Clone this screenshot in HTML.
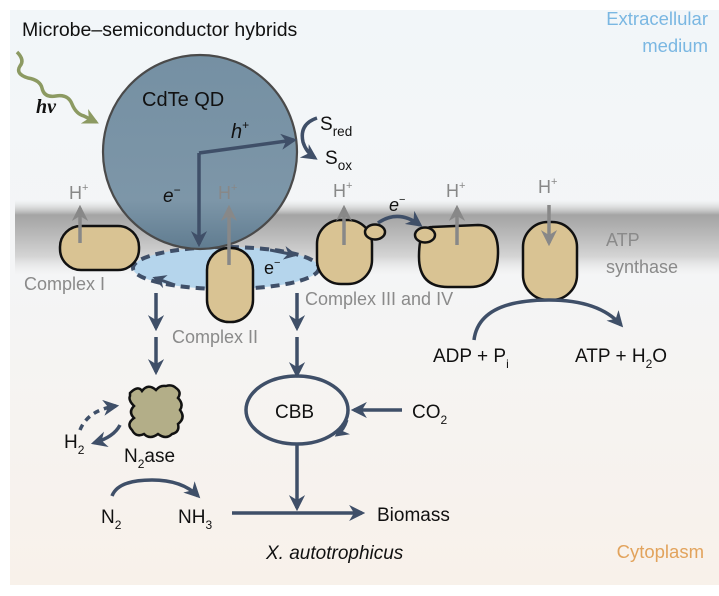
<!DOCTYPE html>
<html><head><meta charset="utf-8"><style>
html,body{margin:0;padding:0;}
body{width:719px;height:591px;overflow:hidden;font-family:"Liberation Sans",sans-serif;}
</style></head><body>
<svg width="719" height="591" viewBox="0 0 719 591" xmlns="http://www.w3.org/2000/svg" font-family="Liberation Sans, sans-serif">
<defs>
<linearGradient id="bg" x1="0" y1="0" x2="0" y2="1">
<stop offset="0" stop-color="#f2f6f9"/><stop offset="0.45" stop-color="#f4f5f6"/><stop offset="1" stop-color="#f8f1ea"/>
</linearGradient>
<linearGradient id="mem" x1="0" y1="0" x2="0" y2="1">
<stop offset="0" stop-color="#d8d8d8" stop-opacity="0"/>
<stop offset="0.2" stop-color="#a4a4a4"/>
<stop offset="0.45" stop-color="#b8b8b8"/>
<stop offset="0.75" stop-color="#d4d4d4"/>
<stop offset="1" stop-color="#e8e8e8" stop-opacity="0"/>
</linearGradient>
<linearGradient id="qd" x1="0" y1="0" x2="0" y2="1">
<stop offset="0" stop-color="#7590a3"/><stop offset="0.75" stop-color="#7d96a8"/><stop offset="1" stop-color="#607c90"/>
</linearGradient>
<marker id="ah" viewBox="0 0 10 10" refX="8" refY="5" markerWidth="4.6" markerHeight="4.6" orient="auto"><path d="M0,0 L10,5 L0,10 L3,5 z" fill="#3f4f68"/></marker>
<marker id="ag" viewBox="0 0 10 10" refX="8" refY="5" markerWidth="4.6" markerHeight="4.6" orient="auto"><path d="M0,0 L10,5 L0,10 L3,5 z" fill="#888"/></marker>
<marker id="aw" viewBox="0 0 10 10" refX="8" refY="5" markerWidth="4.6" markerHeight="4.6" orient="auto"><path d="M0,0 L10,5 L0,10 L3,5 z" fill="#8c9a62"/></marker>
</defs>
<rect width="719" height="591" fill="#fff"/>
<rect x="10" y="10" width="709" height="575" fill="url(#bg)"/>
<rect x="15" y="200" width="704" height="75" fill="url(#mem)"/>

<text x="22" y="36" font-size="19.5" fill="#111">Microbe–semiconductor hybrids</text>
<text x="708" y="25" font-size="18.5" fill="#7ab7e2" text-anchor="end">Extracellular</text>
<text x="708" y="52" font-size="18.5" fill="#7ab7e2" text-anchor="end">medium</text>
<text x="704" y="558" font-size="18.5" fill="#e2a35c" text-anchor="end">Cytoplasm</text>

<path d="M17,52 q8,8 3,14 q-5,8 8,12 q12,2 14,10 q2,10 14,8 q12,-2 16,8 q4,10 12,12 l12,6" fill="none" stroke="#8c9a62" stroke-width="3.5" marker-end="url(#aw)"/>
<text x="36" y="113" font-size="20" font-weight="bold" font-style="italic" fill="#111" font-family="Liberation Serif, serif">hv</text>

<path d="M317,118 q-18,6 -14,24 q3,10 12,16" fill="none" stroke="#3f4f68" stroke-width="3.5" marker-end="url(#ah)"/>
<text x="320" y="130" font-size="19" fill="#111">S<tspan font-size="13.5" dy="6">red</tspan></text>
<text x="325" y="164" font-size="19" fill="#111">S<tspan font-size="13.5" dy="6">ox</tspan></text>

<ellipse cx="226" cy="268" rx="93" ry="21" fill="#b5d5ec" stroke="#3f4f68" stroke-width="4" stroke-dasharray="9,6"/>
<path d="M270,250 l25,5" stroke="#3f4f68" stroke-width="3" marker-end="url(#ah)"/>
<path d="M175,285 l-20,-7" stroke="#3f4f68" stroke-width="3" marker-end="url(#ah)"/>

<circle cx="200" cy="152" r="97" fill="url(#qd)" stroke="#4a4a4a" stroke-width="2.2"/>
<text x="142" y="106" font-size="20" fill="#111">CdTe QD</text>
<path d="M199,153 L199,244" stroke="#3f4f68" stroke-width="3.5" fill="none" marker-end="url(#ah)"/>
<path d="M199,153 L294,140" stroke="#3f4f68" stroke-width="3.5" fill="none" marker-end="url(#ah)"/>
<text x="163" y="202" font-size="19" font-style="italic" fill="#111">e<tspan font-size="12" dy="-8" font-style="normal">−</tspan></text>
<text x="231" y="138" font-size="20" font-style="italic" fill="#111">h<tspan font-size="12" dy="-9" font-style="normal">+</tspan></text>

<g fill="#d9c393" stroke="#111" stroke-width="2.5">
<rect x="60" y="226" width="79" height="44" rx="21"/>
<rect x="207" y="248" width="46" height="74" rx="22"/>
<rect x="317" y="220" width="55" height="64" rx="24"/>
<ellipse cx="375" cy="232" rx="10" ry="7.5"/>
<path d="M432,227 L478,225 Q498,225 498,252 Q498,287 470,287 L448,287 Q419,287 419,257 Q419,227 432,227 z"/>
<ellipse cx="425" cy="235" rx="10" ry="7.5"/>
<rect x="523" y="222" width="54" height="78" rx="25"/>
</g>

<g stroke="#888" stroke-width="3.5">
<line x1="80" y1="243" x2="80" y2="208" marker-end="url(#ag)"/>
<line x1="229" y1="265" x2="229" y2="208" marker-end="url(#ag)"/>
<line x1="344" y1="245" x2="344" y2="208" marker-end="url(#ag)"/>
<line x1="457" y1="245" x2="457" y2="208" marker-end="url(#ag)"/>
<line x1="549" y1="205" x2="549" y2="243" marker-end="url(#ag)"/>
</g>
<g font-size="18" fill="#888">
<text x="69" y="199">H<tspan font-size="11" dy="-8">+</tspan></text>
<text x="218" y="199">H<tspan font-size="11" dy="-8">+</tspan></text>
<text x="333" y="197">H<tspan font-size="11" dy="-8">+</tspan></text>
<text x="446" y="197">H<tspan font-size="11" dy="-8">+</tspan></text>
<text x="538" y="193">H<tspan font-size="11" dy="-8">+</tspan></text>
</g>
<text x="264" y="274" font-size="18" fill="#111">e<tspan font-size="11" dy="-8">−</tspan></text>
<path d="M378,223 q20,-14 42,2" fill="none" stroke="#3f4f68" stroke-width="3.5" marker-end="url(#ah)"/>
<text x="389" y="211" font-size="18" font-style="italic" fill="#111">e<tspan font-size="11" dy="-8" font-style="normal">−</tspan></text>

<g font-size="18" fill="#8a8a8a">
<text x="24" y="290">Complex I</text>
<text x="172" y="343">Complex II</text>
<text x="305" y="305">Complex III and IV</text>
<text x="606" y="246">ATP</text>
<text x="606" y="273">synthase</text>
</g>

<path d="M474,340 q5,-40 75,-40 q50,0 72,25" fill="none" stroke="#3f4f68" stroke-width="3.5" marker-end="url(#ah)"/>
<text x="433" y="362" font-size="19" fill="#111">ADP + P<tspan font-size="12" dy="6">i</tspan></text>
<text x="575" y="362" font-size="19" fill="#111">ATP + H<tspan font-size="12" dy="6">2</tspan><tspan dy="-6">O</tspan></text>

<g stroke="#3f4f68" stroke-width="3.5" marker-end="url(#ah)">
<line x1="156" y1="293" x2="156" y2="328"/>
<line x1="156" y1="337" x2="156" y2="372"/>
<line x1="297" y1="293" x2="297" y2="328"/>
<line x1="297" y1="337" x2="297" y2="375"/>
</g>

<path d="M130,393 q8,-8 12,-2 q6,-8 14,-1 q4,-5 10,-4 q6,-2 10,2 q6,4 2,10 q6,6 2,12 q6,8 -2,14 q2,8 -6,10 q-6,6 -14,0 q-8,6 -14,0 q-8,4 -12,-4 q-6,-6 2,-12 q-6,-6 0,-12 q-6,-6 -4,-10 z" fill="#b3ae88" stroke="#111" stroke-width="2.5"/>
<path d="M80,430 q8,-20 36,-24" fill="none" stroke="#3f4f68" stroke-width="3.5" stroke-dasharray="6,5" marker-end="url(#ah)"/>
<path d="M120,425 q-6,12 -26,18" fill="none" stroke="#3f4f68" stroke-width="3.5" marker-end="url(#ah)"/>
<text x="64" y="448" font-size="19" fill="#111">H<tspan font-size="12" dy="6">2</tspan></text>
<text x="124" y="462" font-size="19" fill="#111">N<tspan font-size="12" dy="6">2</tspan><tspan dy="-6">ase</tspan></text>
<path d="M112,496 q6,-16 40,-16 q30,0 46,16" fill="none" stroke="#3f4f68" stroke-width="3.5" marker-end="url(#ah)"/>
<text x="101" y="523" font-size="19" fill="#111">N<tspan font-size="12" dy="6">2</tspan></text>
<text x="178" y="523" font-size="19" fill="#111">NH<tspan font-size="12" dy="6">3</tspan></text>

<ellipse cx="297" cy="410" rx="51" ry="34" fill="none" stroke="#3f4f68" stroke-width="3.5"/>
<text x="275" y="418" font-size="19" fill="#111">CBB</text>
<path d="M347,420 q-3,10 -10,15" fill="none" stroke="#3f4f68" stroke-width="3" marker-end="url(#ah)"/>
<line x1="402" y1="410" x2="354" y2="410" stroke="#3f4f68" stroke-width="3.5" marker-end="url(#ah)"/>
<text x="412" y="418" font-size="19" fill="#111">CO<tspan font-size="12" dy="6">2</tspan></text>
<line x1="297" y1="444" x2="297" y2="508" stroke="#3f4f68" stroke-width="3.5" marker-end="url(#ah)"/>
<line x1="232" y1="513" x2="362" y2="513" stroke="#3f4f68" stroke-width="3.5" marker-end="url(#ah)"/>
<text x="377" y="521" font-size="19" fill="#111">Biomass</text>
<text x="266" y="559" font-size="19" font-style="italic" fill="#111">X. autotrophicus</text>
</svg>
</body></html>
